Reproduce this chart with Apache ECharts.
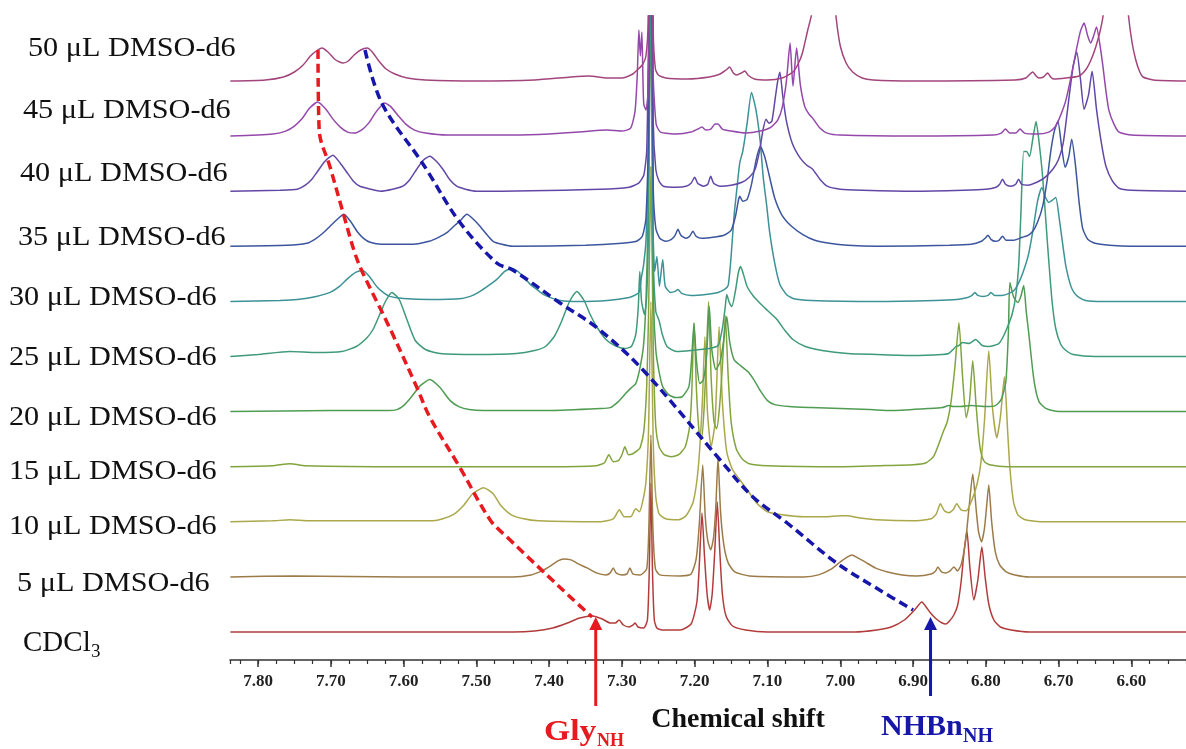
<!DOCTYPE html>
<html><head><meta charset="utf-8">
<script src="https://cdn.jsdelivr.net/npm/echarts@6/dist/echarts.min.js"></script>
<style>html,body{margin:0;padding:0;background:#fff}#c{width:1186px;height:749px}</style>
</head><body><div id="c"></div>
<script>
// ---------- data ----------
const spectrumNames = ['CDCl3','5 μL DMSO-d6','10 μL DMSO-d6','15 μL DMSO-d6','20 μL DMSO-d6','25 μL DMSO-d6','30 μL DMSO-d6','35 μL DMSO-d6','40 μL DMSO-d6','45 μL DMSO-d6','50 μL DMSO-d6'];
const spectrumColors = ['#b23c3c','#9c7b48','#aaa84a','#82a43c','#4f9c52','#3e9a78','#3c9296','#3c559e','#6248a6','#9448aa','#a2457c'];
const tickValues = [7.8,7.7,7.6,7.5,7.4,7.3,7.2,7.1,7.0,6.9,6.8,6.7,6.6];
const tickLabels = ['7.80','7.70','7.60','7.50','7.40','7.30','7.20','7.10','7.00','6.90','6.80','6.70','6.60'];
const axisTitle = 'Chemical shift';

// each spectrum: [chemical shift (ppm), intensity above its own baseline]
const specCDCl3 = [[7.838,0],[7.60,0],[7.45,0],[7.42,1],[7.395,4],[7.375,9],[7.358,14],[7.340,16],[7.327,13],[7.316,9],[7.309,9],[7.304,12],[7.298,7],[7.290,5],[7.285,7],[7.282,9],[7.278,5],[7.270,4],[7.265,12],[7.2625,60],[7.2602,149],[7.258,60],[7.2555,12],[7.252,4],[7.245,2],[7.22,2],[7.205,8],[7.197,30],[7.1935,70],[7.190,119],[7.1865,75],[7.183,38],[7.1795,22],[7.176,38],[7.1725,80],[7.169,130],[7.1655,80],[7.162,38],[7.157,16],[7.148,6],[7.13,2],[7.10,0],[6.98,0],[6.95,2],[6.93,5],[6.912,12],[6.898,22],[6.888,30],[6.882,25],[6.876,19],[6.868,13],[6.860,9],[6.855,8],[6.850,11],[6.844,17],[6.839,26],[6.834,50],[6.830,80],[6.826,101],[6.822,65],[6.8165,32],[6.811,52],[6.8055,85],[6.801,55],[6.796,28],[6.789,12],[6.78,5],[6.765,2],[6.74,0],[6.525,0]];
const spec5 = [[7.838,0],[7.75,1],[7.60,0],[7.45,0],[7.425,2],[7.41,6],[7.398,11],[7.388,16],[7.380,18],[7.370,17],[7.360,13],[7.348,9],[7.335,4],[7.322,2],[7.316,4],[7.312,9],[7.308,4],[7.300,2],[7.293,3],[7.289,9],[7.285,3],[7.275,2],[7.266,8],[7.263,50],[7.2602,142],[7.2575,50],[7.254,8],[7.248,2],[7.22,1],[7.205,3],[7.198,18],[7.1935,55],[7.189,112],[7.1855,60],[7.182,36],[7.178,27],[7.174,40],[7.171,70],[7.168,119],[7.1645,65],[7.160,32],[7.154,14],[7.145,5],[7.125,1],[7.05,0],[7.03,2],[7.012,8],[7.000,15],[6.990,20],[6.984,22],[6.976,19],[6.966,15],[6.952,9],[6.935,5],[6.915,2],[6.895,1],[6.875,3],[6.869,6],[6.866,10],[6.861,5],[6.855,4],[6.849,6],[6.844,10],[6.839,6],[6.834,12],[6.828,35],[6.823,70],[6.818,103],[6.813,65],[6.810,45],[6.806,35],[6.802,48],[6.799,70],[6.796,92],[6.792,55],[6.787,25],[6.781,12],[6.772,5],[6.76,2],[6.74,0],[6.525,0]];
const spec10 = [[7.838,0],[7.78,1],[7.756,2],[7.73,1],[7.60,1],[7.56,1],[7.546,3],[7.530,8],[7.518,16],[7.505,28],[7.490,34],[7.477,28],[7.466,16],[7.452,7],[7.435,3],[7.415,1],[7.33,0],[7.312,3],[7.3035,12],[7.297,5],[7.288,5],[7.281,13],[7.276,10],[7.271,22],[7.267,40],[7.2635,90],[7.2602,220],[7.257,80],[7.2535,25],[7.249,8],[7.24,3],[7.222,2],[7.212,6],[7.202,20],[7.195,55],[7.1895,120],[7.186,185],[7.1825,110],[7.1775,75],[7.172,100],[7.1665,195],[7.162,120],[7.156,70],[7.148,52],[7.138,42],[7.126,30],[7.114,18],[7.100,10],[7.08,7],[7.05,5],[7.02,5],[7.0,6],[6.99,6],[6.975,4],[6.95,2],[6.90,1],[6.875,3],[6.868,8],[6.8625,18],[6.857,11],[6.851,9],[6.845,12],[6.840,18],[6.834,12],[6.827,11],[6.819,22],[6.812,38],[6.807,58],[6.802,100],[6.796,171],[6.791,115],[6.785,84],[6.780,105],[6.7745,145],[6.770,90],[6.767,54],[6.762,20],[6.756,7],[6.746,2],[6.72,0],[6.525,0]];
const spec15 = [[7.838,0],[7.78,1],[7.756,3],[7.735,1],[7.60,0],[7.40,0],[7.335,1],[7.324,4],[7.318,12],[7.312,5],[7.305,6],[7.300,12],[7.296,20],[7.291,12],[7.285,13],[7.279,16],[7.275,19],[7.270,35],[7.266,80],[7.2635,150],[7.2602,300],[7.257,120],[7.2535,40],[7.249,20],[7.242,12],[7.232,10],[7.222,12],[7.213,20],[7.207,40],[7.204,75],[7.201,144],[7.1975,75],[7.194,35],[7.1905,28],[7.187,60],[7.184,110],[7.181,165],[7.1775,90],[7.1735,45],[7.170,38],[7.1665,55],[7.162,100],[7.158,151],[7.154,90],[7.150,45],[7.143,18],[7.135,8],[7.125,3],[7.10,1],[7.00,0],[6.95,1],[6.90,2],[6.882,4],[6.872,10],[6.865,22],[6.859,34],[6.853,45],[6.848,64],[6.8425,100],[6.837,144],[6.832,90],[6.827,49],[6.8225,65],[6.818,106],[6.8135,62],[6.810,32],[6.807,15],[6.802,5],[6.795,2],[6.77,0],[6.525,0]];
const spec20 = [[7.838,0],[7.70,1],[7.62,1],[7.609,2],[7.600,6],[7.591,13],[7.577,26],[7.564,32],[7.550,24],[7.536,11],[7.524,5],[7.510,2],[7.49,1],[7.40,1],[7.33,3],[7.316,4],[7.305,10],[7.295,18],[7.287,24],[7.281,28],[7.276,41],[7.2705,65],[7.267,110],[7.2645,180],[7.2602,400],[7.2565,110],[7.2535,62],[7.249,40],[7.244,25],[7.236,17],[7.226,14],[7.217,15],[7.208,25],[7.2045,50],[7.201,88],[7.1975,50],[7.193,28],[7.188,32],[7.1835,58],[7.180,105],[7.1765,62],[7.171,42],[7.165,50],[7.160,72],[7.156,95],[7.152,70],[7.146,52],[7.137,46],[7.127,40],[7.118,31],[7.110,21],[7.100,11],[7.09,7],[7.07,5],[7.04,4],[7.00,3],[6.96,2],[6.93,1],[6.88,3],[6.86,4],[6.851,6],[6.845,5],[6.835,5],[6.82,6],[6.80,5],[6.787,6],[6.779,12],[6.7725,30],[6.769,80],[6.767,129],[6.762,115],[6.756,109],[6.752,115],[6.748,126],[6.7445,100],[6.741,78],[6.734,32],[6.727,10],[6.717,3],[6.70,0],[6.525,0]];
const spec25 = [[7.838,0],[7.80,2],[7.756,5],[7.72,4],[7.685,5],[7.665,10],[7.650,19],[7.642,27],[7.634,40],[7.625,55],[7.616,64],[7.606,57],[7.596,38],[7.584,16],[7.570,7],[7.55,3],[7.50,2],[7.445,3],[7.42,6],[7.405,10],[7.393,20],[7.383,35],[7.372,55],[7.362,65],[7.352,56],[7.343,41],[7.334,29],[7.322,17],[7.310,11],[7.296,8],[7.287,10],[7.281,22],[7.2775,50],[7.2755,85],[7.273,55],[7.269,42],[7.266,60],[7.2635,130],[7.2602,400],[7.257,100],[7.2535,45],[7.249,36],[7.2445,22],[7.238,10],[7.225,5],[7.205,6],[7.18,8],[7.168,11],[7.162,28],[7.158,50],[7.156,62],[7.1525,54],[7.149,50],[7.144,66],[7.140,84],[7.137,90],[7.133,82],[7.128,70],[7.119,60],[7.110,53],[7.100,46],[7.087,37],[7.076,26],[7.065,17],[7.048,10],[7.025,6],[6.99,3],[6.95,2],[6.90,1],[6.86,2],[6.851,3],[6.845,7],[6.841,10],[6.837,11],[6.832,14],[6.823,13],[6.814,17],[6.805,11],[6.796,10],[6.789,11],[6.782,13],[6.776,20],[6.770,30],[6.764,42],[6.759,60],[6.755,90],[6.752,140],[6.748,205],[6.744,205],[6.740,200],[6.735,220],[6.731,235],[6.727,215],[6.722,180],[6.717,130],[6.714,100],[6.709,55],[6.704,28],[6.697,12],[6.690,6],[6.680,2],[6.65,0],[6.525,0]];
const spec30 = [[7.838,0],[7.77,1],[7.746,2],[7.72,5],[7.701,9],[7.688,15],[7.678,22],[7.666,29],[7.656,31],[7.646,24],[7.637,15],[7.628,9],[7.619,5],[7.60,3],[7.564,2],[7.52,3],[7.505,6],[7.495,10],[7.483,16],[7.472,22],[7.461,30],[7.451,33],[7.443,30],[7.436,25],[7.426,17],[7.417,12],[7.408,7],[7.399,4],[7.385,1],[7.36,0],[7.32,1],[7.29,4],[7.28,7],[7.276,10],[7.273,25],[7.2705,35],[7.267,60],[7.2635,150],[7.2602,400],[7.2575,80],[7.255,30],[7.252,45],[7.2485,15],[7.244,42],[7.2405,15],[7.233,9],[7.227,10],[7.223,12],[7.218,8],[7.205,6],[7.185,7],[7.168,9],[7.159,12],[7.154,16],[7.150,45],[7.146,85],[7.141,120],[7.138,139],[7.134,150],[7.128,178],[7.122,209],[7.116,192],[7.110,160],[7.106,125],[7.101,95],[7.097,69],[7.090,38],[7.083,17],[7.074,7],[7.065,3],[7.04,1],[6.95,0],[6.87,1],[6.84,2],[6.825,4],[6.819,6],[6.815,9],[6.811,6],[6.804,5],[6.797,6],[6.793,9],[6.788,6],[6.778,6],[6.768,8],[6.760,12],[6.754,20],[6.749,29],[6.742,45],[6.7355,70],[6.729,100],[6.723,114],[6.718,104],[6.7135,99],[6.709,101],[6.704,104],[6.699,82],[6.694,55],[6.690,35],[6.684,17],[6.679,9],[6.672,4],[6.663,1],[6.64,0],[6.525,0]];
const spec35 = [[7.838,0],[7.76,1],[7.733,3],[7.722,7],[7.711,13],[7.701,20],[7.691,27],[7.682,32],[7.673,25],[7.663,14],[7.655,8],[7.646,4],[7.63,2],[7.587,2],[7.565,5],[7.552,9],[7.540,14],[7.531,20],[7.523,25],[7.513,32],[7.504,27],[7.495,20],[7.486,12],[7.477,5],[7.465,2],[7.450,0],[7.35,1],[7.30,3],[7.28,5],[7.272,10],[7.267,28],[7.2635,120],[7.2602,400],[7.257,60],[7.2535,18],[7.248,8],[7.24,5],[7.232,7],[7.227,11],[7.223,17],[7.219,11],[7.212,8],[7.207,10],[7.2025,15],[7.198,10],[7.19,8],[7.175,9],[7.160,11],[7.150,16],[7.144,30],[7.140,46],[7.138,50],[7.134,45],[7.128,47],[7.122,62],[7.116,85],[7.110,100],[7.104,90],[7.098,72],[7.090,48],[7.080,31],[7.067,20],[7.052,12],[7.035,6],[7.015,3],[6.99,1],[6.95,0],[6.85,1],[6.82,2],[6.806,5],[6.801,8],[6.797,11],[6.793,7],[6.787,5],[6.782,6],[6.777,10],[6.772,6],[6.762,6],[6.750,9],[6.742,11],[6.7355,15],[6.729,24],[6.722,40],[6.716,65],[6.711,94],[6.706,115],[6.701,125],[6.696,100],[6.691,79],[6.686,90],[6.682,107],[6.677,82],[6.672,45],[6.667,18],[6.660,7],[6.650,3],[6.63,1],[6.60,0],[6.525,0]];
const spec40 = [[7.838,0],[7.77,1],[7.746,2],[7.735,6],[7.726,12],[7.719,19],[7.708,30],[7.697,36],[7.687,28],[7.678,19],[7.669,10],[7.660,5],[7.645,2],[7.632,0],[7.615,2],[7.601,5],[7.591,12],[7.582,22],[7.573,31],[7.564,35],[7.555,30],[7.546,22],[7.537,12],[7.527,5],[7.515,2],[7.50,0],[7.33,2],[7.29,4],[7.277,8],[7.270,16],[7.266,40],[7.2635,150],[7.2602,400],[7.257,70],[7.2535,22],[7.249,10],[7.243,5],[7.225,4],[7.212,5],[7.205,8],[7.200,14],[7.196,8],[7.188,5],[7.182,7],[7.178,15],[7.174,8],[7.165,5],[7.150,6],[7.135,9],[7.125,14],[7.117,22],[7.111,40],[7.106,62],[7.102,72],[7.098,68],[7.094,70],[7.089,95],[7.086,110],[7.083,119],[7.079,95],[7.074,70],[7.066,48],[7.055,33],[7.046,26],[7.038,22],[7.028,12],[7.018,5],[7.00,2],[6.97,1],[6.90,0],[6.83,1],[6.80,2],[6.786,4],[6.781,7],[6.777,12],[6.773,7],[6.766,5],[6.759,7],[6.755,12],[6.751,7],[6.742,6],[6.730,9],[6.720,13],[6.708,22],[6.700,32],[6.694,47],[6.690,68],[6.686,92],[6.680,125],[6.675,139],[6.670,112],[6.665,82],[6.659,96],[6.654,120],[6.648,82],[6.641,47],[6.635,25],[6.626,10],[6.617,3],[6.60,1],[6.525,0]];
const spec45 = [[7.838,0],[7.78,2],[7.762,5],[7.750,10],[7.740,17],[7.729,28],[7.718,34],[7.707,27],[7.697,17],[7.687,9],[7.677,4],[7.668,3],[7.658,6],[7.648,13],[7.639,23],[7.631,30],[7.626,33],[7.617,29],[7.607,20],[7.597,12],[7.585,6],[7.57,3],[7.54,1],[7.45,1],[7.40,2],[7.36,4],[7.32,6],[7.30,5],[7.288,8],[7.282,25],[7.279,60],[7.2767,106],[7.2747,80],[7.2726,104],[7.2712,60],[7.270,32],[7.267,26],[7.2645,40],[7.262,130],[7.2602,400],[7.257,60],[7.253,12],[7.247,4],[7.225,2],[7.205,4],[7.196,7],[7.190,9],[7.185,6],[7.178,7],[7.172,12],[7.168,12],[7.162,7],[7.150,5],[7.13,3],[7.11,5],[7.095,9],[7.086,16],[7.080,28],[7.074,55],[7.069,93],[7.065,50],[7.060,88],[7.055,52],[7.049,30],[7.043,22],[7.038,18],[7.028,8],[7.018,3],[7.00,1],[6.90,0],[6.79,1],[6.779,3],[6.773,7],[6.767,3],[6.759,3],[6.753,7],[6.747,3],[6.73,2],[6.7135,4],[6.705,9],[6.700,16],[6.695,25],[6.690,36],[6.683,59],[6.676,85],[6.670,105],[6.665,113],[6.660,100],[6.656,93],[6.652,100],[6.648,109],[6.643,90],[6.639,69],[6.635,45],[6.631,26],[6.624,12],[6.617,4],[6.60,1],[6.525,0]];
const spec50 = [[7.838,0],[7.79,1],[7.765,4],[7.750,9],[7.738,16],[7.728,25],[7.718,31],[7.712,33],[7.704,29],[7.695,22],[7.688,19],[7.683,18],[7.676,20],[7.668,26],[7.659,31],[7.650,33],[7.643,29],[7.634,20],[7.624,12],[7.612,7],[7.595,3],[7.57,1],[7.50,0],[7.42,1],[7.37,4],[7.345,5],[7.32,3],[7.30,3],[7.285,7],[7.279,11],[7.272,16],[7.267,25],[7.264,60],[7.2602,400],[7.257,50],[7.254,12],[7.250,6],[7.240,3],[7.21,2],[7.18,4],[7.165,7],[7.157,11],[7.152,14],[7.147,8],[7.142,6],[7.136,8],[7.131,10],[7.127,6],[7.118,2],[7.10,1],[7.08,3],[7.065,9],[7.058,17],[7.052,28],[7.045,50],[7.039,68],[7.033,105],[7.028,150],[7.022,200],[7.016,150],[7.011,105],[7.006,65],[7.000,35],[6.992,18],[6.983,9],[6.970,3],[6.955,1],[6.90,0],[6.76,1],[6.745,3],[6.7355,9],[6.731,5],[6.727,3],[6.721,4],[6.715,8],[6.711,4],[6.707,2],[6.69,3],[6.672,5],[6.662,12],[6.655,22],[6.649,34],[6.643,50],[6.639,65],[6.632,120],[6.6215,250],[6.611,120],[6.604,65],[6.599,38],[6.594,21],[6.589,10],[6.584,4],[6.57,1],[6.525,0]];
const spectra = [specCDCl3, spec5, spec10, spec15, spec20, spec25, spec30, spec35, spec40, spec45, spec50];

// guide traces through the NH peaks: [ppm, stacked level]
const glyTrace = [[7.7176,610],[7.716,530],[7.701,493],[7.683,447],[7.667,407],[7.656,387],[7.619,332],[7.582,273],[7.564,243],[7.523,193],[7.481,140],[7.458,123],[7.371,63],[7.341,43]];
const nhTrace = [[7.653,610],[7.630,557],[7.577,500],[7.568,490],[7.523,438],[7.472,397],[7.450,390],[7.385,357],[7.334,332],[7.271,290],[7.165,200],[7.120,163],[7.073,137],[7.005,97],[6.946,70],[6.900,50]];
// arrows: [ppm, level of tail, level of tip]
const glyArrow = [7.336, -46, 43];
const nhArrow = [6.876, -36, 43];

// ---------- layout ----------
const xMin = 6.525, xMax = 7.8385;
const baseOffset = 28, offsetStep = 55.1;
const labelPos = [[23,643],[17,584],[9,527],[9,472],[9,418],[9,358],[9,298],[18,238],[20,174],[23,111],[28,49]];
const serif = '"Liberation Serif","DejaVu Serif",serif';
const RED = '#e61a1f', BLUE = '#1616aa';

const chart = echarts.init(document.getElementById('c'), null, {renderer:'canvas'});

const series = spectra.map((pts, i) => ({
  type:'line', name: spectrumNames[i],
  data: pts.map(p => [p[0], baseOffset + offsetStep * i + p[1]]),
  symbol:'none', showSymbol:false, smooth:0.2, clip:true, silent:true,
  lineStyle:{width:1.5, color: spectrumColors[i]}, z: 2 + i * 0.01
}));
series.push({
  type:'line', data: glyTrace, symbol:'none', smooth:0.35, silent:true, z:10,
  lineStyle:{color:RED, width:3.5, type:[9,5]}
});
series.push({
  type:'line', data: nhTrace, symbol:'none', smooth:0.35, silent:true, z:10,
  lineStyle:{color:BLUE, width:3.5, type:[9,5]}
});

const graphics = [];
spectrumNames.forEach((name, i) => {
  const [x, y] = labelPos[i];
  if (name === 'CDCl3') {
    graphics.push({type:'text', x:x, y:y, silent:true, style:{text:'CDCl', font:'29px ' + serif, fill:'#111', textAlign:'left', textVerticalAlign:'middle', align:'left', verticalAlign:'middle'}});
    graphics.push({type:'text', x:x + 68, y:y + 9, silent:true, style:{text:'3', font:'19px ' + serif, fill:'#111', textAlign:'left', textVerticalAlign:'middle', align:'left', verticalAlign:'middle'}});
  } else {
    graphics.push({type:'text', x:x, y:y, scaleX:1.12, silent:true, style:{text:name, font:'27px ' + serif, fill:'#111', textAlign:'left', textVerticalAlign:'middle', align:'left', verticalAlign:'middle'}});
  }
});
graphics.push({type:'text', x:738, y:720, silent:true, style:{text:axisTitle, font:'bold 28px ' + serif, fill:'#111', textAlign:'center', textVerticalAlign:'middle', align:'center', verticalAlign:'middle'}});
graphics.push({type:'text', x:544, y:732, scaleX:1.12, silent:true, style:{text:'Gly', font:'bold 30px ' + serif, fill:RED, textAlign:'left', textVerticalAlign:'middle', align:'left', verticalAlign:'middle'}});
graphics.push({type:'text', x:597, y:741, silent:true, style:{text:'NH', font:'bold 18px ' + serif, fill:RED, textAlign:'left', textVerticalAlign:'middle', align:'left', verticalAlign:'middle'}});
graphics.push({type:'text', x:881, y:727, silent:true, style:{text:'NHBn', font:'bold 30px ' + serif, fill:BLUE, textAlign:'left', textVerticalAlign:'middle', align:'left', verticalAlign:'middle'}});
graphics.push({type:'text', x:963, y:737, silent:true, style:{text:'NH', font:'bold 20px ' + serif, fill:BLUE, textAlign:'left', textVerticalAlign:'middle', align:'left', verticalAlign:'middle'}});

function labelFor(v){
  let best = 0;
  tickValues.forEach((t, k) => { if (Math.abs(t - v) < Math.abs(tickValues[best] - v)) best = k; });
  return tickLabels[best];
}

chart.setOption({
  animation:false,
  backgroundColor:'#fff',
  grid:{left:230, right:0, top:16, bottom:89, containLabel:false, outerBoundsMode:'none'},
  xAxis:[
    {type:'value', inverse:true, min:xMin, max:xMax, position:'bottom',
     axisLine:{show:true, onZero:false, lineStyle:{color:'#333', width:1.5}},
     axisTick:{show:true, customValues:tickValues, length:7, lineStyle:{color:'#333', width:1.5}},
     axisLabel:{show:true, customValues:tickValues, formatter:labelFor, margin:13,
       fontFamily:serif, fontWeight:'bold', fontSize:17, color:'#222'},
     splitLine:{show:false}},
    {type:'value', inverse:true, min:xMin, max:xMax, interval:0.025, position:'bottom',
     axisLine:{show:false, onZero:false},
     axisTick:{show:true, length:4, lineStyle:{color:'#333', width:1.2}},
     axisLabel:{show:false}, splitLine:{show:false}}
  ],
  yAxis:{type:'value', min:0, max:644, show:false, splitLine:{show:false}},
  series: series,
  graphic: graphics
});

// arrows placed through the chart's own scales
function arrowGraphics(a, color, id){
  const tail = chart.convertToPixel({gridIndex:0}, [a[0], a[1]]);
  const tip = chart.convertToPixel({gridIndex:0}, [a[0], a[2]]);
  const head = 13, half = 6.5;
  return [
    {type:'line', id:id + 'shaft', silent:true, z:20,
     shape:{x1:tail[0], y1:tail[1], x2:tip[0], y2:tip[1] + head - 2},
     style:{stroke:color, lineWidth:3}},
    {type:'polygon', id:id + 'head', silent:true, z:20,
     shape:{points:[[tip[0], tip[1]], [tip[0] - half, tip[1] + head], [tip[0] + half, tip[1] + head]]},
     style:{fill:color}}
  ];
}
chart.setOption({graphic: graphics.concat(arrowGraphics(glyArrow, RED, 'ga'), arrowGraphics(nhArrow, BLUE, 'na'))});
</script></body></html>
